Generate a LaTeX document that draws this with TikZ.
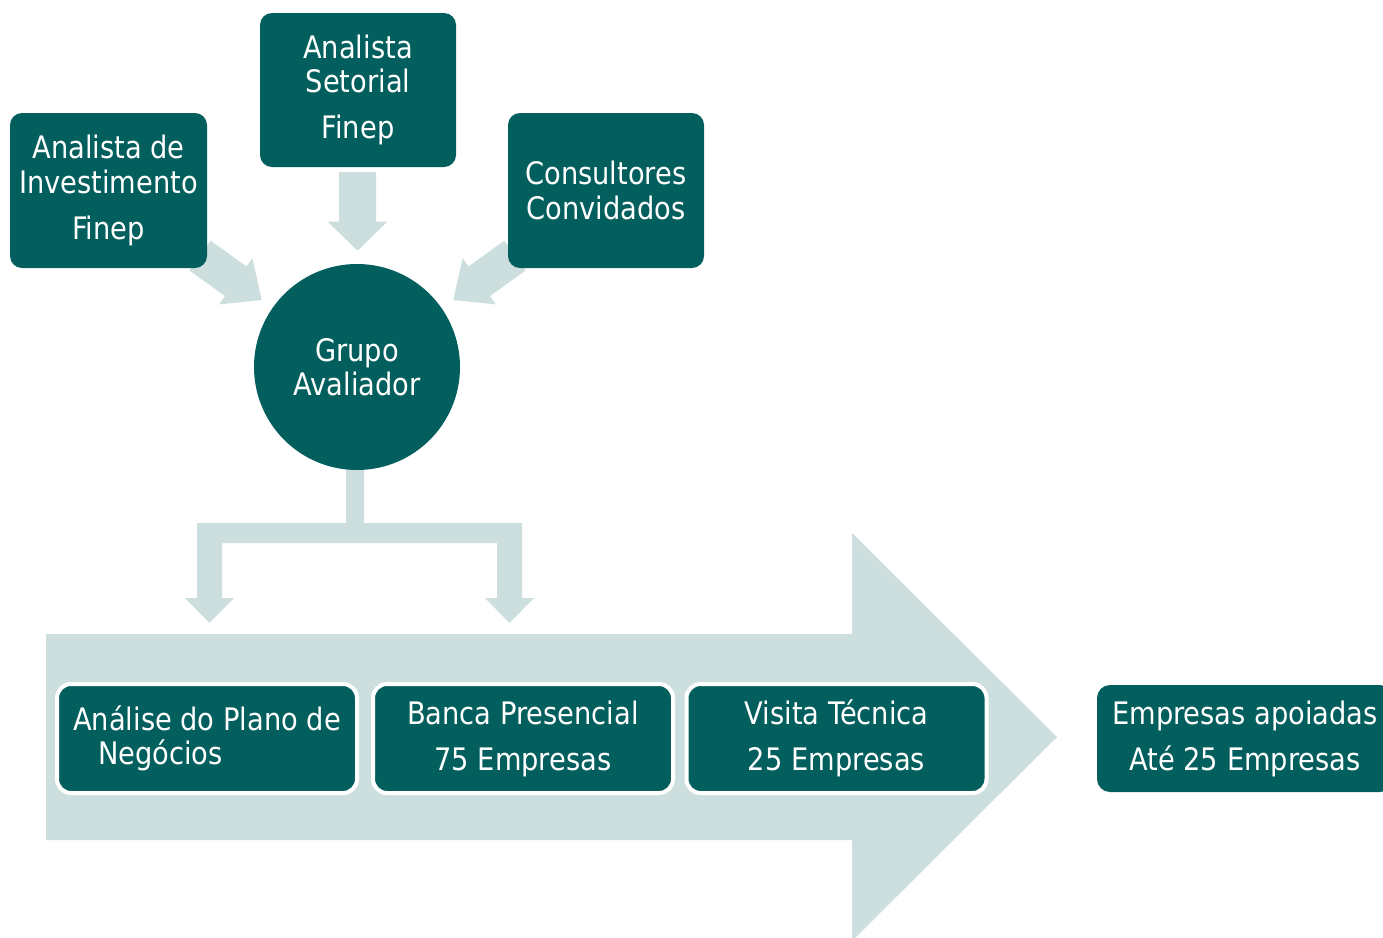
\documentclass[tikz,border=0pt]{standalone}
\usepackage{fontspec}
\newfontfamily\tfont[FakeStretch=0.88]{DejaVu Sans}
\usetikzlibrary{calc}
\definecolor{dk}{HTML}{035F5E}
\definecolor{lt}{HTML}{CCDFDE}
\newcommand{\blockarrow}[5]{% from, to, shaft half width, head half width, head length
  \coordinate (ba-h) at ($(#2)!#5!(#1)$);
  \fill[lt] ($(#1)!#3!90:(#2)$) -- ($(ba-h)!#3!-90:(#1)$) -- ($(ba-h)!#4!-90:(#1)$) -- (#2)
    -- ($(ba-h)!#4!90:(#1)$) -- ($(ba-h)!#3!90:(#1)$) -- ($(#1)!#3!-90:(#2)$) -- cycle;}
\tikzset{
  txt/.style={text=white, font=\tfont\fontsize{31}{34.5}\selectfont, align=center, inner sep=0pt},
  topbox/.style={txt, fill=dk, rounded corners=12pt},
  stepbox/.style={txt, fill=dk, draw=white, line width=4pt, rounded corners=14pt,
    minimum width=300pt, minimum height=109pt},
}
\begin{document}
\begin{tikzpicture}[x=1pt,y=-1pt]
\useasboundingbox (0,0) rectangle (1383,937);
\clip (0,0) rectangle (1383,937);
% big process arrow
\fill[lt] (46,634) -- (852,634) -- (852,533) -- (1057,737) -- (852,941) -- (852,840) -- (46,840) -- cycle;
% bracket connector
\fill[lt] (346,455) -- (364,455) -- (364,523) -- (522,523) -- (522,598) -- (534,598) -- (509.5,623)
  -- (485,598) -- (497,598) -- (497,543) -- (222,543) -- (222,598) -- (234,598) -- (209.5,623)
  -- (185,598) -- (197,598) -- (197,523) -- (346,523) -- cycle;
% block arrows into the circle
\coordinate (la) at (200,255.5); \coordinate (lb) at (261.7,300);
\coordinate (ta) at (357.5,172);   \coordinate (tb) at (357.5,250.7);
\coordinate (ra) at (515,255.5); \coordinate (rb) at (453.3,300);
\blockarrow{la}{lb}{18.3pt}{28.5pt}{32pt}
\blockarrow{ta}{tb}{18.5pt}{29.8pt}{29pt}
\blockarrow{ra}{rb}{18.3pt}{28.5pt}{32pt}
% top boxes
\node[topbox, minimum width=197pt, minimum height=155pt] (ai) at (108.5,190.5)
  {Analista de\\Investimento\\[11.5pt]Finep};
\node[topbox, minimum width=196pt, minimum height=154pt] (as) at (358,90)
  {Analista\\Setorial\\[11.5pt]Finep};
\node[topbox, minimum width=196pt, minimum height=155pt] (cc) at (606,190.5)
  {Consultores\\Convidados};
% circle
\node[txt, circle, fill=dk, minimum size=206pt] (ga) at (357,367) {Grupo\\Avaliador};
% step boxes
\node[stepbox, align=left] (s1) at (207,738.5) {Análise do Plano de\\\hspace*{25pt}Negócios};
\node[stepbox] (s2) at (523,738.5) {Banca Presencial\\[11.5pt]75 Empresas};
\node[stepbox] (s3) at (836.5,738.5) {Visita Técnica\\[11.5pt]25 Empresas};
\node[topbox, rounded corners=13pt, minimum width=296pt, minimum height=107pt] (ea) at (1245,738.5)
  {Empresas apoiadas\\[11.5pt]Até 25 Empresas};
\end{tikzpicture}
\end{document}
